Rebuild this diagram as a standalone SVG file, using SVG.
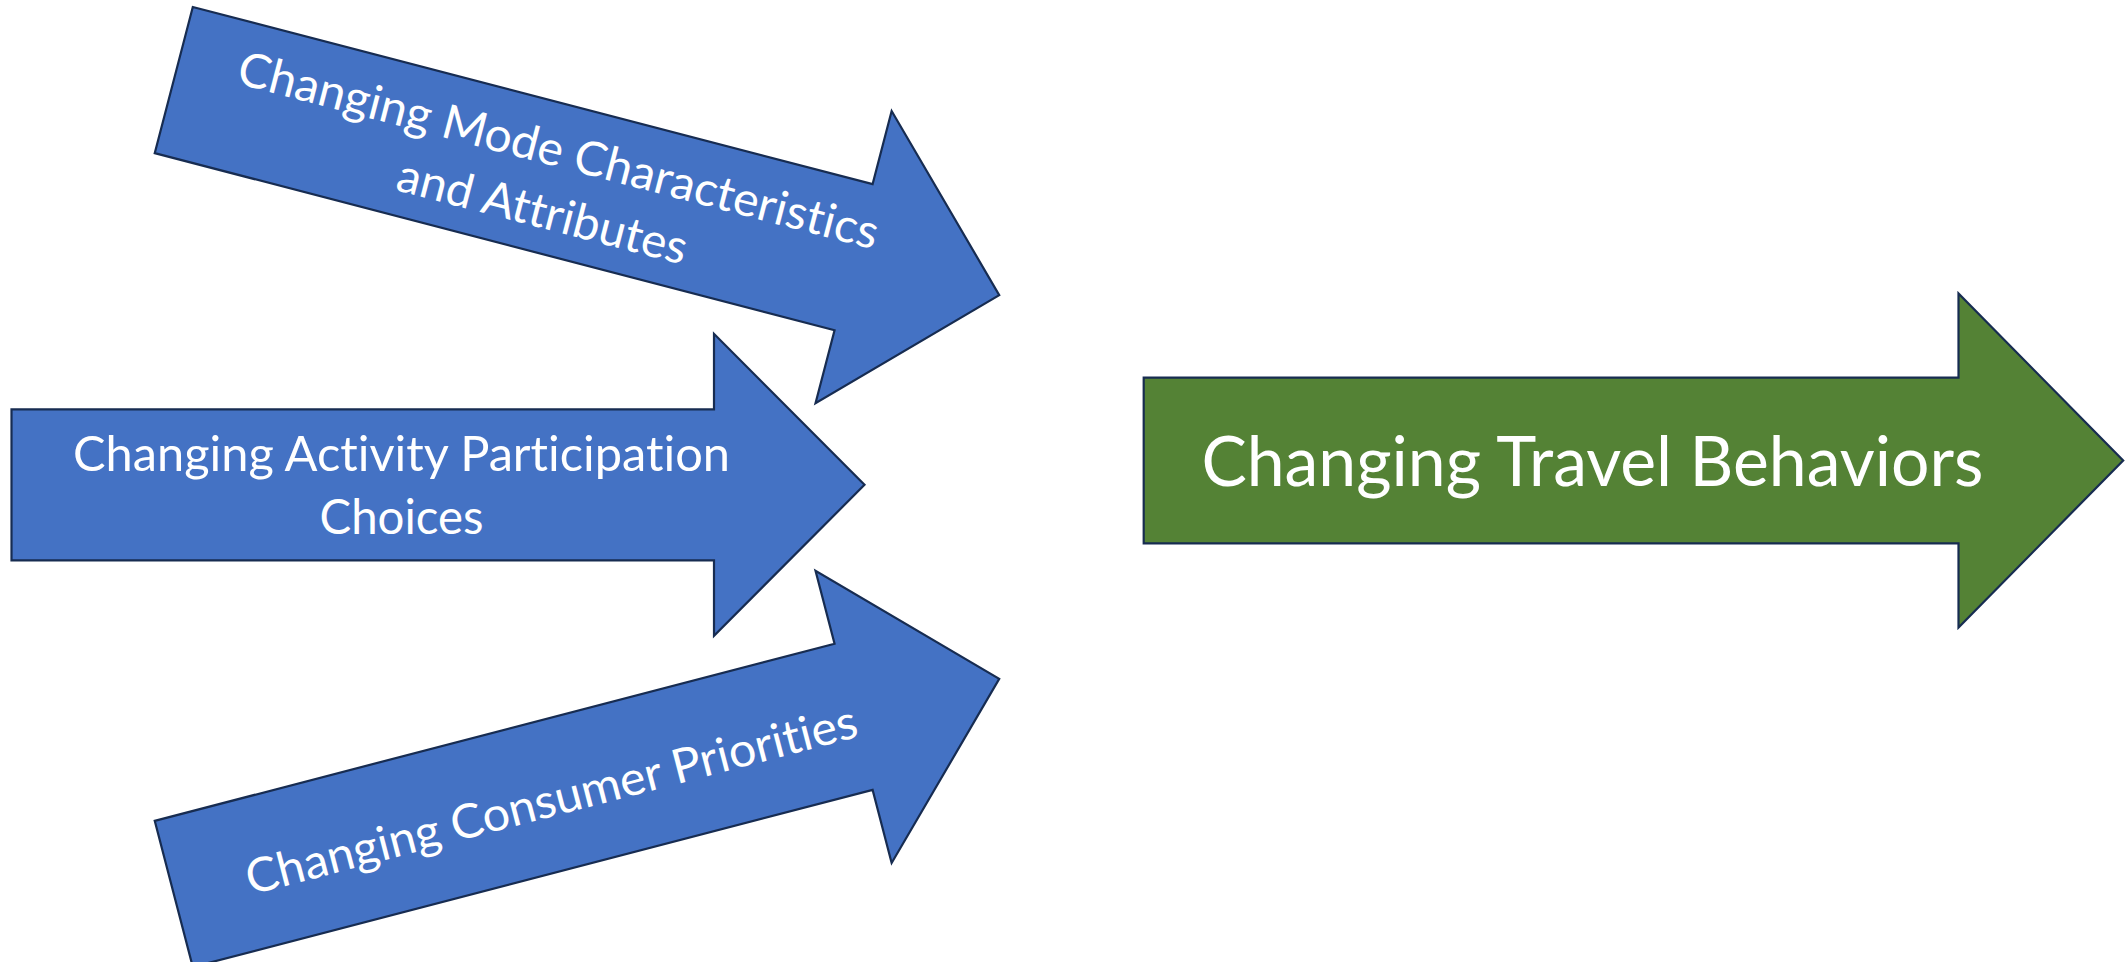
<svg xmlns="http://www.w3.org/2000/svg" width="2125" height="962" viewBox="0 0 2125 962">
  <style>
    .blue { fill: #4472C4; stroke: #172C51; stroke-width: 2.2; stroke-linejoin: miter; }
    .green { fill: #548235; stroke: #172C51; stroke-width: 2.2; stroke-linejoin: miter; }
    .lbl { font-family: Lato, "Open Sans", "Liberation Sans", sans-serif; fill: #FFFFFF; text-anchor: middle; font-variant-ligatures: none; font-feature-settings: "liga" 0, "clig" 0; }
    .small { font-size: 47.5px; }
    .big { font-size: 69px; }
  </style>
  <defs>
    <!-- block arrow shape: shaft 702.5 x 151, head 150.5 long -->
    <path id="blockArrow" d="M0,0 H702.5 V-75.5 L853,75.5 L702.5,226.5 V151 H0 Z"/>
    <path id="blockArrowUp" d="M0,0 H702.5 V75.5 L853,-75.5 L702.5,-226.5 V-151 H0 Z"/>
  </defs>
  <rect width="2125" height="962" fill="#FFFFFF"/>

  <g id="connectors"></g>

  <g id="mode-characteristics" transform="translate(192.8,7) rotate(14.6)">
    <use href="#blockArrow" class="blue"/>
    <text class="lbl small" x="390" y="63" textLength="660" lengthAdjust="spacingAndGlyphs">Changing Mode Characteristics</text>
    <text class="lbl small" x="390" y="126" textLength="298" lengthAdjust="spacingAndGlyphs">and Attributes</text>
  </g>

  <g id="activity-participation" transform="translate(11.5,409.3)">
    <use href="#blockArrow" class="blue"/>
    <text class="lbl small" x="390" y="61.4" textLength="657" lengthAdjust="spacingAndGlyphs">Changing Activity Participation</text>
    <text class="lbl small" x="390" y="124.7" textLength="164" lengthAdjust="spacingAndGlyphs">Choices</text>
  </g>

  <g id="consumer-priorities" transform="translate(192.8,967) rotate(-14.6)">
    <use href="#blockArrowUp" class="blue"/>
    <text class="lbl small" x="389" y="-55" textLength="630" lengthAdjust="spacingAndGlyphs">Changing Consumer Priorities</text>
  </g>

  <g id="travel-behaviors">
    <path class="green" d="M1143.7,377.7 H1958.5 V293.5 L2123.2,460.5 L1958.5,627.5 V543.3 H1143.7 Z"/>
    <text class="lbl big" x="1592.4" y="486" textLength="782" lengthAdjust="spacingAndGlyphs">Changing Travel Behaviors</text>
  </g>
</svg>
